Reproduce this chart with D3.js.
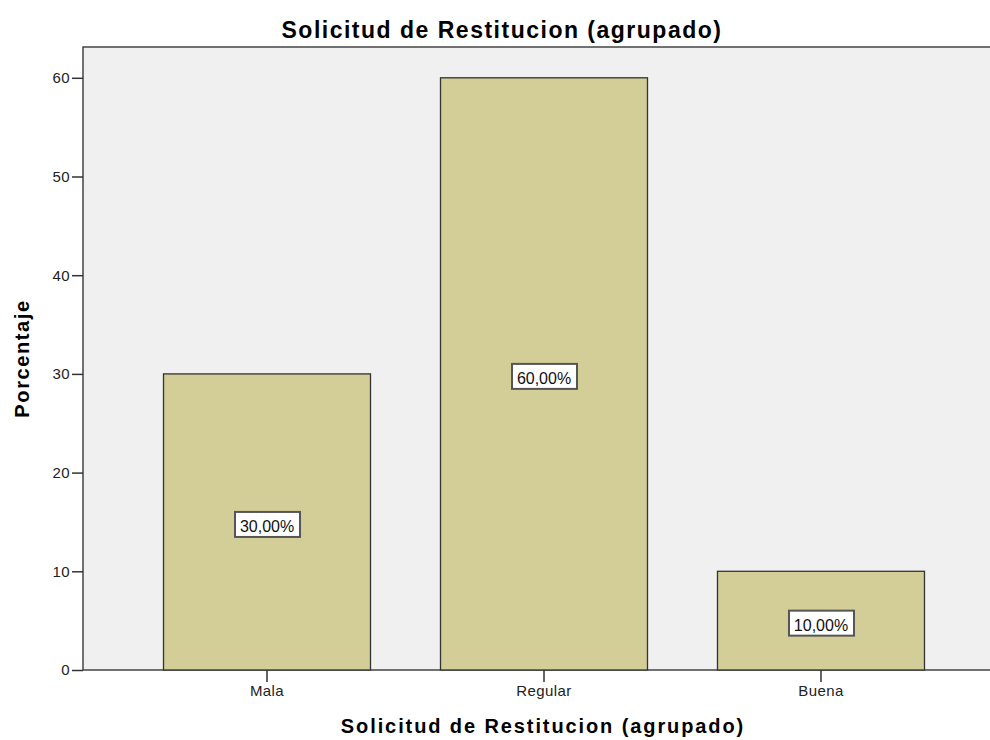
<!DOCTYPE html>
<head>
	<meta charset="UTF-8">
	<title>Solicitud de Restitucion</title>
	<script src="https://d3js.org/d3.v7.min.js"></script>
	<style>
		body { margin: 0; background: #fff; }
		.chart { font-family: "Liberation Sans", Arial, sans-serif; }
		.axis path, .axis line { stroke: #333; stroke-width: 1.5; }
		.axis text { font-size: 15px; fill: #222; letter-spacing: 0.4px; }
	</style>
</head>
<body>
	<svg class="chart" width="990" height="740"></svg>
	<script>
		// data
		var categories = ["Mala", "Regular", "Buena"];
		var values = [30, 60, 10];
		var yTicks = [0, 10, 20, 30, 40, 50, 60];

		var chart = d3.select(".chart"),
			plotLeft = 83, plotTop = 47, plotRight = 992, plotBottom = 670;

		var x = d3.scaleBand().domain(categories)
			.range([128.5, 959.5]).paddingInner(0.2527).paddingOuter(0.1264);
		var y = d3.scaleLinear().domain([0, 63.12]).range([plotBottom, plotTop]);

		// plot background
		chart.append("rect")
			.attr("x", plotLeft).attr("y", plotTop)
			.attr("width", plotRight - plotLeft).attr("height", plotBottom - plotTop)
			.attr("fill", "#f0f0f0")
			.attr("stroke", "#444").attr("stroke-width", 1.5);

		// bars
		chart.append("g").selectAll("rect")
			.data(values)
			.enter().append("rect")
			.attr("x", (d, i) => x(categories[i]))
			.attr("y", d => y(d))
			.attr("width", x.bandwidth())
			.attr("height", d => y(0) - y(d))
			.attr("fill", "#d3cd98")
			.attr("stroke", "#333").attr("stroke-width", 1.3);

		// value labels
		var lab = chart.append("g").selectAll("g")
			.data(values)
			.enter().append("g")
			.attr("transform", (d, i) => "translate(" + (x(categories[i]) + x.bandwidth() / 2) + "," + y(d / 2) + ")");

		lab.append("rect")
			.attr("x", -32).attr("y", -10)
			.attr("width", 65).attr("height", 25)
			.attr("fill", "#fff")
			.attr("stroke", "#555").attr("stroke-width", 2);

		lab.append("text")
			.attr("text-anchor", "middle")
			.attr("y", 10.5)
			.attr("font-size", 16)
			.attr("fill", "#111")
			.text(d => d3.format(".2f")(d).replace(".", ",") + "%");

		// axes
		chart.append("g")
			.attr("class", "axis")
			.attr("transform", "translate(" + plotLeft + ",0)")
			.call(d3.axisLeft(y).tickValues(yTicks).tickSize(11).tickSizeOuter(0).tickPadding(2))
			.call(g => g.select(".domain").remove());

		chart.append("g")
			.attr("class", "axis")
			.attr("transform", "translate(0," + plotBottom + ")")
			.call(d3.axisBottom(x).tickSize(12).tickSizeOuter(0).tickPadding(3))
			.call(g => g.select(".domain").remove());

		// titles
		chart.append("text")
			.attr("x", 502).attr("y", 38)
			.attr("text-anchor", "middle")
			.attr("font-size", 23).attr("font-weight", "bold")
			.attr("letter-spacing", 1.5)
			.text("Solicitud de Restitucion (agrupado)");

		chart.append("text")
			.attr("x", 543).attr("y", 733)
			.attr("text-anchor", "middle")
			.attr("font-size", 20).attr("font-weight", "bold")
			.attr("letter-spacing", 1.9)
			.text("Solicitud de Restitucion (agrupado)");

		chart.append("text")
			.attr("transform", "translate(29," + ((plotTop + plotBottom) / 2) + ") rotate(-90)")
			.attr("text-anchor", "middle")
			.attr("font-size", 20).attr("font-weight", "bold")
			.attr("letter-spacing", 1.6)
			.text("Porcentaje");
	</script>
</body>
</html>
